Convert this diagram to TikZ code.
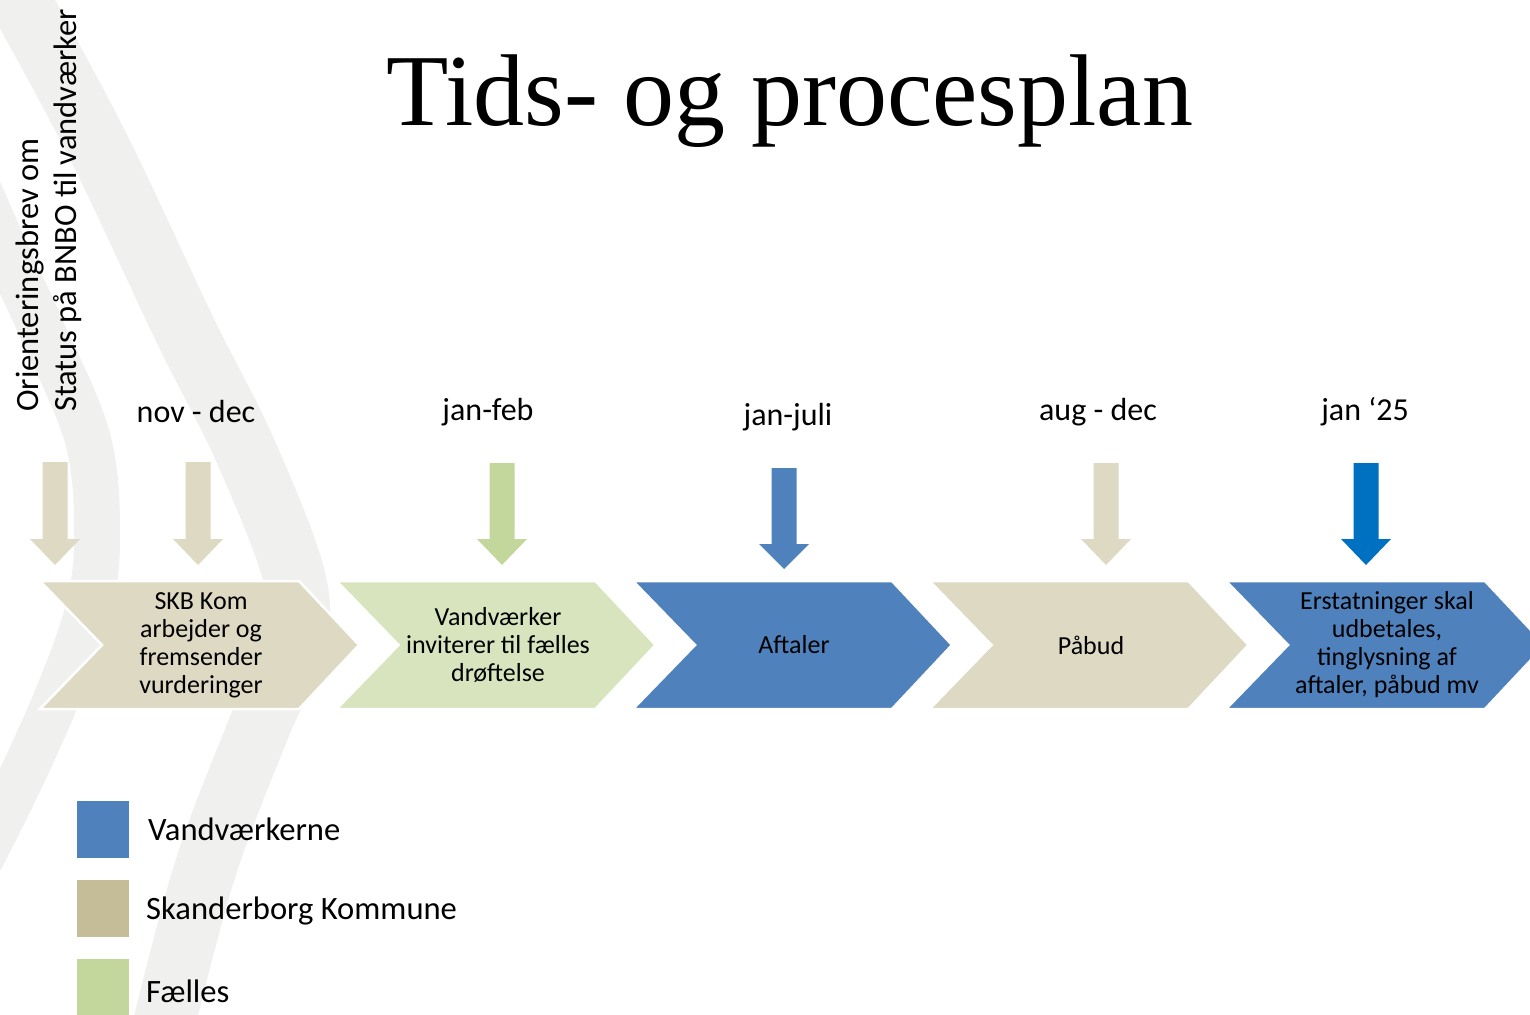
\documentclass[tikz,border=0pt]{standalone}
\usepackage{fontspec}
\setmainfont{Carlito}
\newfontfamily\titlefont{Liberation Serif}
\definecolor{beige}{HTML}{DDD9C3}
\definecolor{beigedark}{HTML}{C4BD97}
\definecolor{lgreen}{HTML}{D7E4BD}
\definecolor{mgreen}{HTML}{C3D69B}
\definecolor{mblue}{HTML}{4F81BD}
\definecolor{sblue}{HTML}{0070C0}
\definecolor{swooshgray}{HTML}{F0F0EE}
\newcommand\mychev[2]{\fill[#2,draw=white,line width=2.5pt,line join=miter] (#1,581) -- ++(259,0) -- ++(60,64) -- ++(-60,64) -- ++(-259,0) -- ++(62,-64) -- cycle;}
\newcommand\mydarrow[5]{\fill[#5] ({#1-12.5},#2) -- ({#1+12.5},#2) -- ({#1+12.5},#3) -- ({#1+25},#3) -- (#1,#4) -- ({#1-25},#3) -- ({#1-12.5},#3) -- cycle;}
\begin{document}
\begin{tikzpicture}[x=1pt,y=-1pt,
  swoosh/.style={draw=swooshgray,line cap=butt},
  chevtext/.style={font=\fontsize{26}{28}\selectfont,align=center,text=black,inner sep=0pt},
  datelbl/.style={font=\fontsize{32}{38}\selectfont,anchor=base,inner sep=0pt},
  rottext/.style={font=\fontsize{32.5}{38}\selectfont,anchor=base west,rotate=90,inner sep=0pt},
  legbox/.style={minimum width=52pt,minimum height=57pt,inner sep=0pt,anchor=north west},
  legtext/.style={font=\fontsize{32.6}{38}\selectfont,anchor=base west,inner sep=0pt}]
\useasboundingbox (0,0) rectangle (1530,1014);
\clip (0,0) rectangle (1530,1014);
% background swooshes
\draw[swoosh,line width=46pt] plot[smooth,tension=0.6] coordinates {(-30,170) (5,250) (42,330) (88,440) (97,540) (88,610) (60,690) (20,780) (-20,860)};
\draw[swoosh,line width=62pt] plot[smooth,tension=0.6] coordinates {(5,-30) (20,0) (100,150) (185,330) (245,450) (295,580) (292,650) (258,730) (205,870) (160,1040)};
% title
\node[font=\titlefont\fontsize{102}{110}\selectfont,anchor=base,inner sep=0pt] (title) at (790,125) {Tids- og procesplan};
% rotated note
\node[rottext] (ori1) at (38,412) {Orienteringsbrev om};
\node[rottext] (ori2) at (76,412) {Status på BNBO til vandværker};
% dates
\node[datelbl] (d1) at (196,422) {nov - dec};
\node[datelbl] (d2) at (488,420) {jan-feb};
\node[datelbl] (d3) at (788,425) {jan-juli};
\node[datelbl] (d4) at (1098,420) {aug - dec};
\node[datelbl] (d5) at (1365,420) {jan ‘25};
% arrows
\mydarrow{55}{462}{539}{565}{beige}
\mydarrow{198}{462}{539}{565}{beige}
\mydarrow{502}{463}{539}{565}{mgreen}
\mydarrow{784}{468}{544}{569}{mblue}
\mydarrow{1106}{463}{539}{565}{beige}
\mydarrow{1366}{463}{539}{565}{sblue}
% chevrons
\mychev{40}{beige}
\mychev{336.5}{lgreen}
\mychev{633}{mblue}
\mychev{929.5}{beige}
\mychev{1226}{mblue}
\node[chevtext] (c1) at (201,645) {SKB Kom\\arbejder og\\fremsender\\vurderinger};
\node[chevtext] (c2) at (498,645) {Vandværker\\inviterer til fælles\\drøftelse};
\node[chevtext] (c3) at (794,645) {Aftaler};
\node[chevtext] (c4) at (1091,645) {Påbud};
\node[chevtext] (c5) at (1387,645) {Erstatninger skal\\udbetales,\\tinglysning af\\aftaler, påbud mv};
% legend
\node[legbox,fill=mblue] (k1) at (77,801) {};
\node[legbox,fill=beigedark] (k2) at (77,880) {};
\node[legbox,fill=mgreen] (k3) at (77,959) {};
\node[legtext] (l1) at (148,840) {Vandværkerne};
\node[legtext] (l2) at (146,919) {Skanderborg Kommune};
\node[legtext] (l3) at (146,1002) {Fælles};
\end{tikzpicture}
\end{document}
